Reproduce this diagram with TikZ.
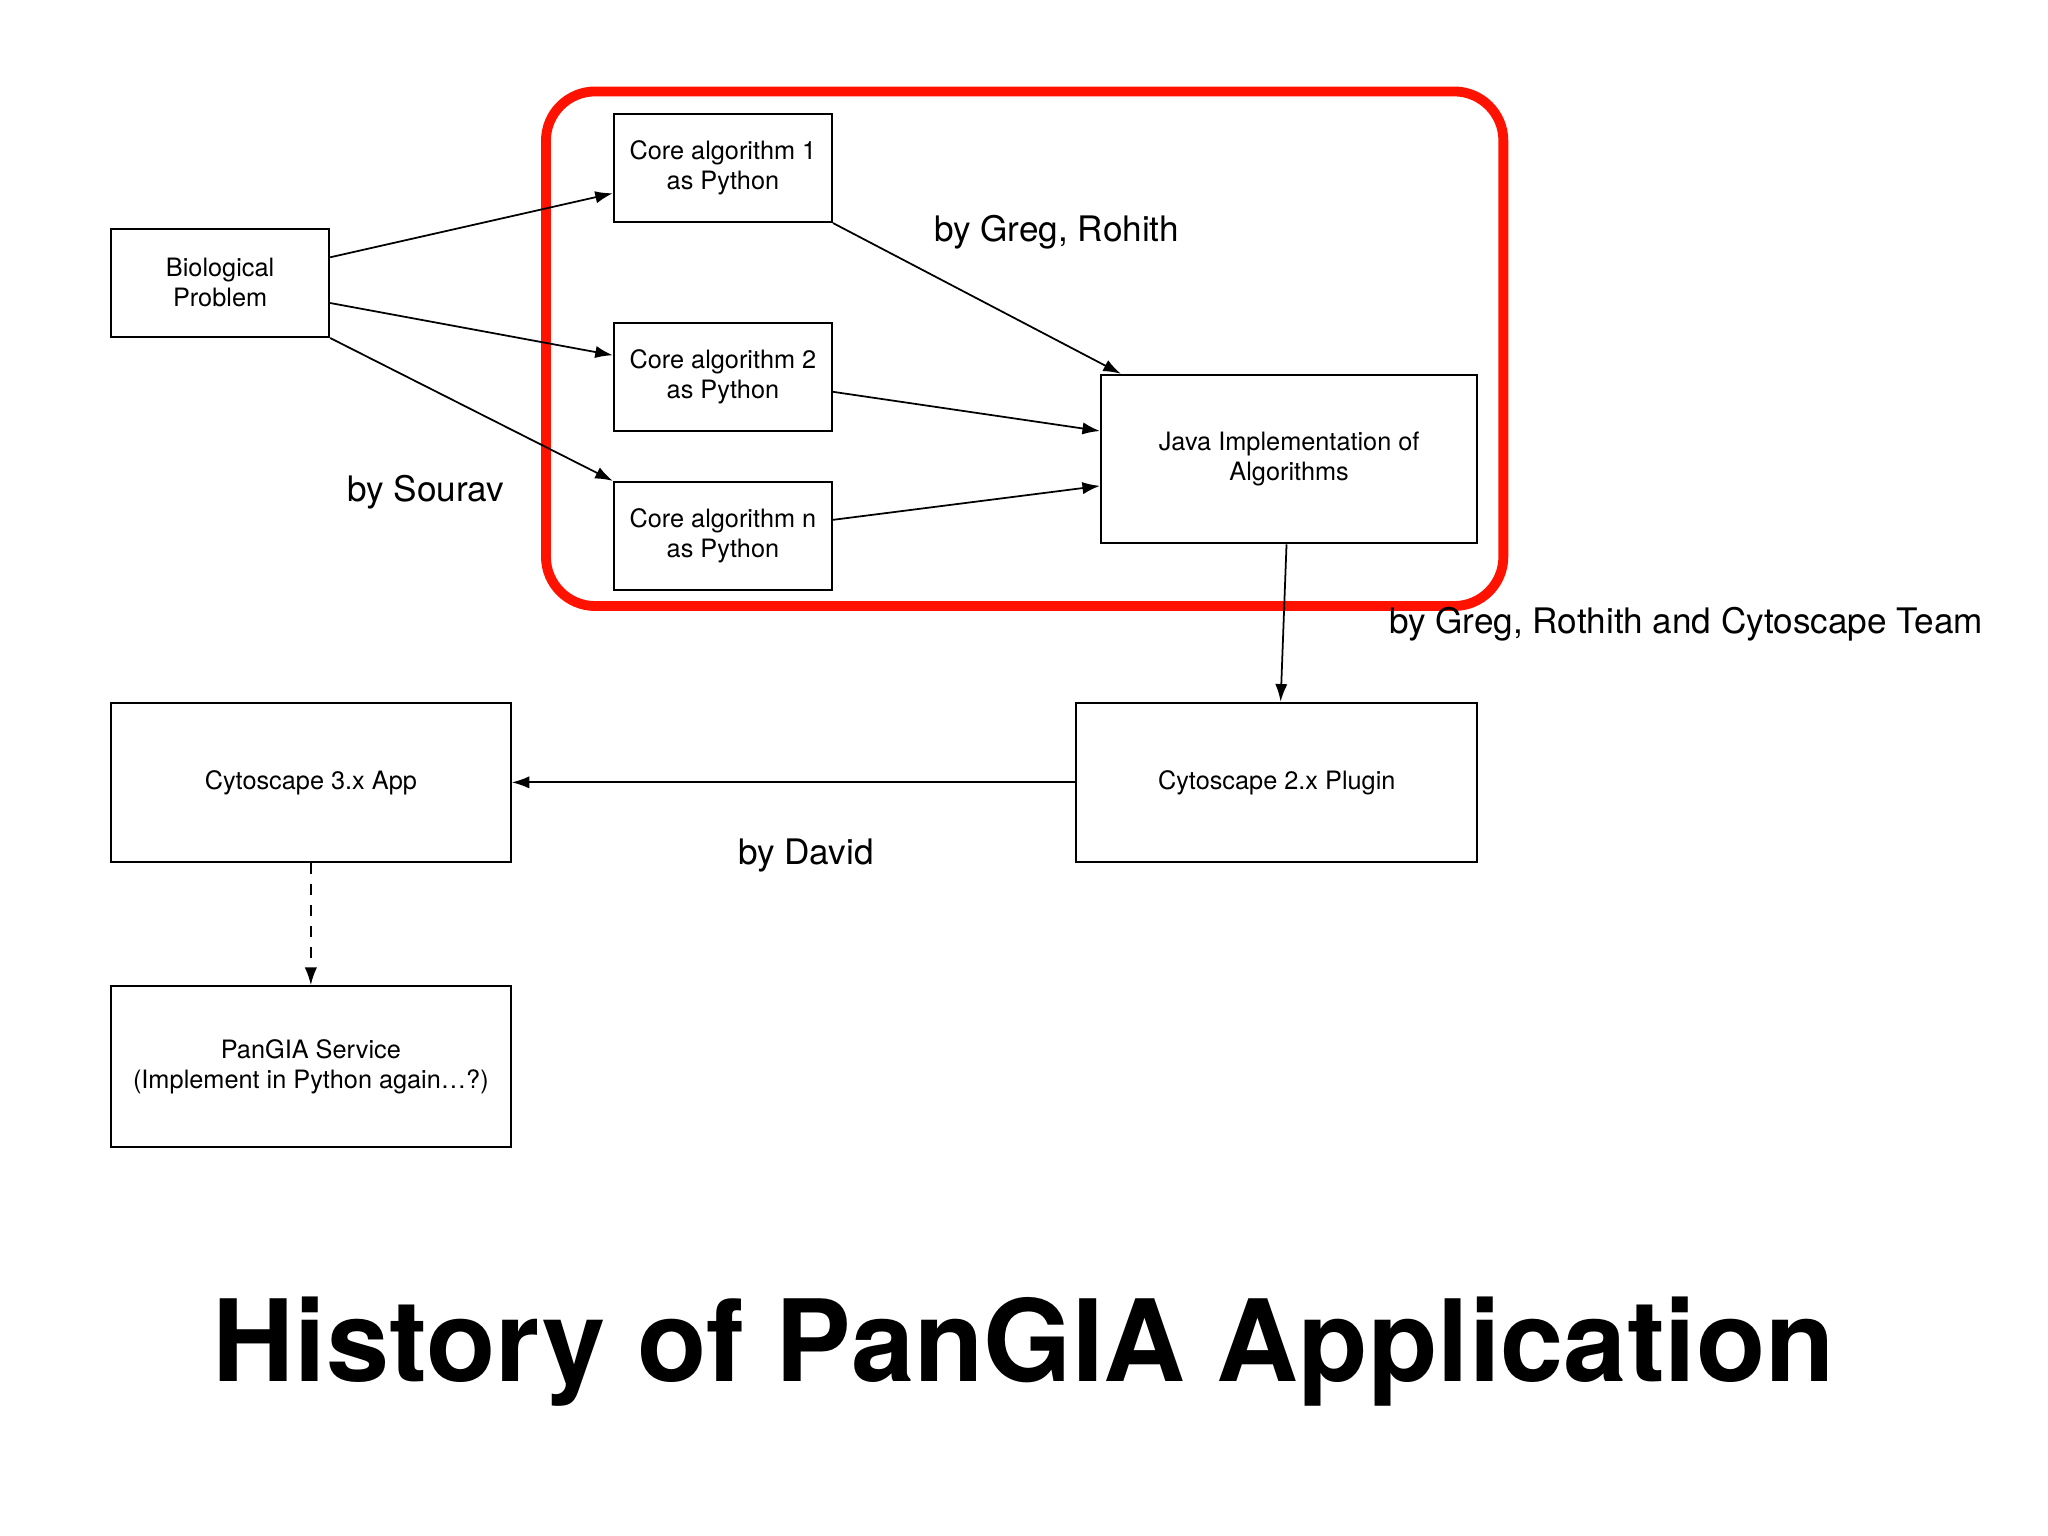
\documentclass[tikz,border=0pt]{standalone}
\usepackage{fontspec}
\setmainfont{TeX Gyre Heros}
\usetikzlibrary{arrows.meta,calc}
\begin{document}
\begin{tikzpicture}[x=0.013061cm,y=-0.013061cm,
  box/.style={draw,line width=0.6pt,align=center,font=\fontsize{7.2}{8.6}\selectfont,inner sep=0pt},
  lab/.style={font=\fontsize{10}{12}\selectfont},
  arr/.style={-{Latex[length=5pt,width=3.5pt]},line width=0.5pt}]
\useasboundingbox (0,0) rectangle (1568,1176);
\node[box,minimum width=167*0.013061cm,minimum height=83*0.013061cm] (bio) at (168.5,216.5) {Biological\\Problem};
\node[box,minimum width=167*0.013061cm,minimum height=83*0.013061cm] (c1) at (553.5,128.5) {Core algorithm 1\\as Python};
\node[box,minimum width=167*0.013061cm,minimum height=83*0.013061cm] (c2) at (553.5,288.5) {Core algorithm 2\\as Python};
\node[box,minimum width=167*0.013061cm,minimum height=83*0.013061cm] (cn) at (553.5,410.5) {Core algorithm n\\as Python};
\node[box,minimum width=288*0.013061cm,minimum height=129*0.013061cm] (java) at (987,351.5) {Java Implementation of\\Algorithms};
\node[box,minimum width=307*0.013061cm,minimum height=122*0.013061cm] (plug) at (977.5,599) {Cytoscape 2.x Plugin};
\node[box,minimum width=306*0.013061cm,minimum height=122*0.013061cm] (app) at (238,599) {Cytoscape 3.x App};
\node[box,minimum width=306*0.013061cm,minimum height=123*0.013061cm] (pan) at (238,816.5) {PanGIA Service\\(Implement in Python again\dots?)};
\draw[red!85!orange,line width=2.8pt,rounded corners=14pt] (418,70) rectangle (1151,464);
\draw[arr] ([yshift=19.5*0.013061cm]bio.east) -- ([yshift=-19.5*0.013061cm]c1.west);
\draw[arr] ([yshift=-15.5*0.013061cm]bio.east) -- ([yshift=16.5*0.013061cm]c2.west);
\draw[arr] (bio.south east) -- (cn.north west);
\draw[arr] (c1.south east) -- ([xshift=16*0.013061cm]java.north west);
\draw[arr] ([yshift=-11.5*0.013061cm]c2.east) -- ([yshift=21.5*0.013061cm]java.west);
\draw[arr] ([yshift=12.5*0.013061cm]cn.east) -- ([yshift=-20.5*0.013061cm]java.west);
\draw[arr] ([xshift=-2*0.013061cm]java.south) -- ([xshift=3*0.013061cm]plug.north);
\draw[arr] (plug.west) -- (app.east);
\draw[arr,dashed] (app.south) -- (pan.north);
\node[lab] (l1) at (809,178) {by Greg, Rohith};
\node[lab] (l2) at (326,377) {by Sourav};
\node[lab] (l3) at (1291,478) {by Greg, Rothith and Cytoscape Team};
\node[lab] (l4) at (617,655) {by David};
\node[font=\fontsize{32.3}{38}\selectfont\bfseries] (t) at (784,1035) {History of PanGIA Application};
\end{tikzpicture}
\end{document}
